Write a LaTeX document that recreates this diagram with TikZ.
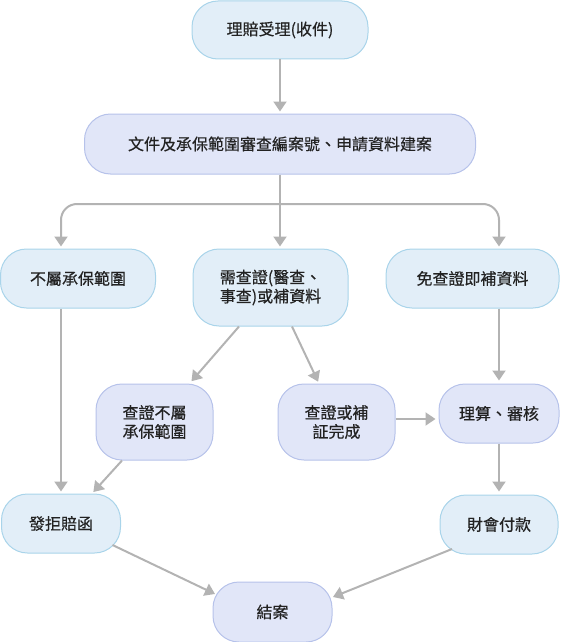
\documentclass[tikz,border=0pt]{standalone}
\usepackage{fontspec}
\setmainfont{Noto Sans CJK TC}
\newfontfamily\boxfont{Noto Sans CJK TC}[FakeBold=0.5]
\usepackage{tikz}
\usetikzlibrary{arrows.meta}

\definecolor{bluefill}{HTML}{E2EEF8}
\definecolor{blueline}{HTML}{A9D4EA}
\definecolor{lilacfill}{HTML}{E1E6F8}
\definecolor{lilacline}{HTML}{B6C2EA}
\definecolor{flowgray}{HTML}{B3B3B3}
\definecolor{textdark}{HTML}{222222}

\begin{document}
\begin{tikzpicture}[x=1pt, y=-1pt,
	box/.style={rounded corners=26pt, line width=1pt, align=center, inner sep=0pt,
		text=textdark, font=\boxfont\fontsize{16}{19}\selectfont},
	bluebox/.style={box, draw=blueline, fill=bluefill},
	lilacbox/.style={box, draw=lilacline, fill=lilacfill},
	flow/.style={draw=flowgray, line width=2pt, -{Triangle[width=13pt, length=10pt]}, shorten >=2pt}]

	\useasboundingbox (0,0) rectangle (560,642);
	% Intake %
	\node [bluebox, minimum width=176pt, minimum height=58pt] (A) at (280,30) {理賠受理(收件)};
	\node [lilacbox, minimum width=391pt, minimum height=60pt] (B) at (280,144) {文件及承保範圍審查編案號、申請資料建案};
	% Three branches %
	\node [bluebox, minimum width=155pt, minimum height=59pt] (C) at (78,278.5) {不屬承保範圍};
	\node [bluebox, minimum width=155pt, minimum height=77pt] (D) at (270.5,287.5) {需查證(醫查、\\事查)或補資料};
	\node [bluebox, minimum width=173pt, minimum height=59pt] (E) at (472.5,278.5) {免查證即補資料};
	% Investigation %
	\node [lilacbox, minimum width=117pt, minimum height=76pt] (G) at (154.5,422) {查證不屬\\承保範圍};
	\node [lilacbox, minimum width=117pt, minimum height=76pt] (H) at (336.5,422) {查證或補\\証完成};
	\node [lilacbox, minimum width=120pt, minimum height=59pt] (I) at (499,413.5) {理算、審核};
	% Outcome %
	\node [bluebox, minimum width=119pt, minimum height=59pt] (F) at (61,523.5) {發拒賠函};
	\node [bluebox, minimum width=118pt, minimum height=59pt] (J) at (499,524.5) {財會付款};
	\node [lilacbox, minimum width=119pt, minimum height=60pt] (K) at (272.5,612) {結案};
	% Arrows %
	\coordinate (split) at (280,204);
	\draw [flow] (A.south) -- (B.north);
	\draw [flow] (B.south) -- (B.south |- D.north);
	\draw [flow, rounded corners=16pt] (split) -| (F |- C.north);
	\draw [flow, rounded corners=16pt] (split) -| (I |- E.north);
	\draw [flow] (F |- C.south) -- (F.north);
	\draw [flow, shorten >=3pt] ([xshift=-31.5pt]D.south) -- ([xshift=35pt]G.north);
	\draw [flow] ([xshift=21.5pt]D.south) -- ([xshift=-17.5pt]H.north);
	\draw [flow, shorten >=3pt] ([yshift=3pt]H.east) -- ([yshift=3pt]H.east -| I.west);
	\draw [flow, shorten >=3pt] (I |- E.south) -- (I.north);
	\draw [flow, shorten >=3pt] (I.south) -- (J.north);
	\draw [flow] ([xshift=-32.5pt]G.south) -- ([xshift=31pt]F.north);
	\draw [flow, shorten >=0pt] ([shift={(51.5,21.5)}]F.center) -- ([shift={(-57.5,-18)}]K.center);
	\draw [flow, shorten >=0pt] ([shift={(-47,24.5)}]J.center) -- ([shift={(60.5,-15)}]K.center);
\end{tikzpicture}
\end{document}
